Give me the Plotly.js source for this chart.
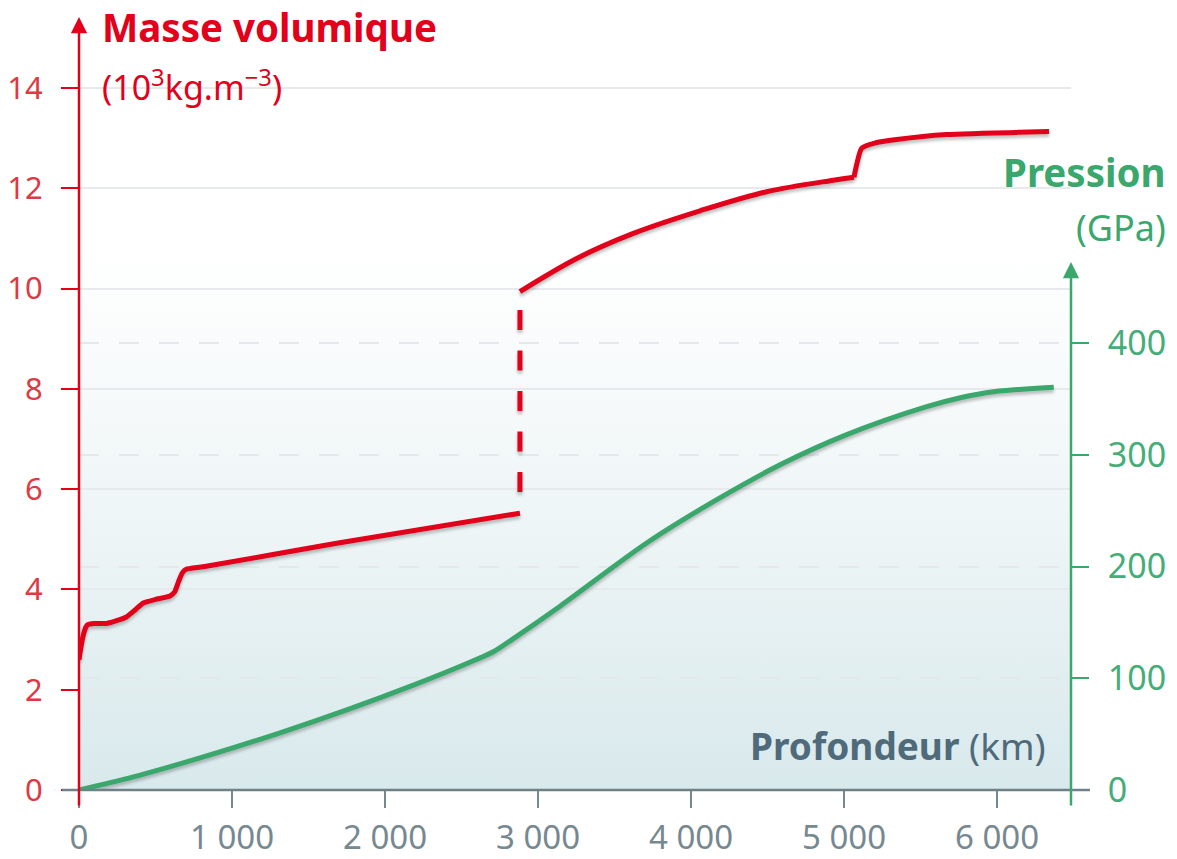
<!DOCTYPE html>
<html>
<head>
<meta charset="utf-8">
<script src="https://cdn.plot.ly/plotly-3.0.1.min.js"></script>
<style>
  html, body { margin: 0; padding: 0; background: #ffffff; }
  #chart { width: 1177px; height: 859px; }
  .js-plotly-plot .scatterlayer .trace .js-line { filter: drop-shadow(0px 3px 1.5px rgba(80,80,80,0.35)); }
</style>
</head>
<body>
<div id="chart"></div>
<script>
// Masse volumique (10^3 kg/m3) en fonction de la profondeur (km)
const mantleDepth = [0, 10, 25, 45, 60, 100, 180, 250, 310, 370, 420, 500, 595, 625, 650, 675, 700, 812, 1684, 2882];
const mantleDensity = [2.6, 2.8, 3.05, 3.25, 3.3, 3.32, 3.32, 3.38, 3.45, 3.6, 3.73, 3.8, 3.87, 3.95, 4.15, 4.33, 4.4, 4.45, 4.92, 5.52];

const outerCoreDepth = [2882, 3253, 3623, 4059, 4495, 4930, 5065];
const outerCoreDensity = [9.94, 10.60, 11.10, 11.55, 11.93, 12.16, 12.22];

const innerCoreDepth = [5065, 5116, 5200, 5344, 5671, 6340];
const innerCoreDensity = [12.22, 12.80, 12.9, 12.97, 13.07, 13.13];

const cmbDepth = [2882, 2882];
const cmbDensity = [5.94, 9.57];

// Pression (GPa)
const pressureDepth = [0, 355, 791, 1314, 1750, 2185, 2512, 2708, 2839, 3144, 3710, 4146, 4582, 5018, 5540, 5760, 5976, 6371];
const pressureValue = [0, 11.7, 28.7, 51.2, 71.7, 93.9, 111.9, 123.7, 135.5, 164.5, 221, 258, 291, 318, 343, 351, 356.4, 360.5];

const xTickVals = [0, 1000, 2000, 3000, 4000, 5000, 6000];
const xTickText = ['0', '1 000', '2 000', '3 000', '4 000', '5 000', '6 000'];
const densityTicks = [0, 2, 4, 6, 8, 10, 12, 14];
const pressureTicks = [0, 100, 200, 300, 400];

const RED = '#e2001a';
const RED_LABEL = '#dd3a45';
const GREEN = '#3aa86c';
const GREEN_LABEL = '#45ad78';
const GREY = '#768890';
const SLATE = '#4f6a7a';
const FONT = 'Noto Sans, Open Sans, sans-serif';

// plot-area geometry (pixels)
const W = 1177, H = 859;
const L = 79, R = 1071, T = 18, B = 790;
const pw = R - L, ph = B - T;
const px = v => (v - L) / pw;
const py = v => (B - v) / ph;

const gradSvg = "<svg xmlns='http://www.w3.org/2000/svg' width='100' height='100' viewBox='0 0 100 100' preserveAspectRatio='none'>" +
  "<defs><linearGradient id='g' x1='0' y1='0' x2='0' y2='1'>" +
  "<stop offset='0' stop-color='#ffffff'/><stop offset='0.3' stop-color='#ffffff'/>" +
  "<stop offset='0.65' stop-color='#eef5f6'/><stop offset='1' stop-color='#d8e9ec'/></linearGradient></defs>" +
  "<rect x='0' y='0' width='100' height='100' fill='url(#g)'/></svg>";
const gradUri = 'data:image/svg+xml;charset=utf-8,' + encodeURIComponent(gradSvg);

function redLine(x, y, smoothing) {
  return {
    x: x, y: y, type: 'scatter', mode: 'lines',
    line: { color: RED, width: 5, shape: 'spline', smoothing: smoothing },
    hoverinfo: 'skip', showlegend: false
  };
}

const traces = [
  {
    x: pressureDepth, y: pressureValue, yaxis: 'y2', type: 'scatter', mode: 'lines',
    line: { color: GREEN, width: 5, shape: 'spline', smoothing: 0.9 },
    hoverinfo: 'skip', showlegend: false
  },
  redLine(mantleDepth, mantleDensity, 0.45),
  redLine(outerCoreDepth, outerCoreDensity, 1.0),
  redLine(innerCoreDepth, innerCoreDensity, 0.5),
  {
    x: cmbDepth, y: cmbDensity, type: 'scatter', mode: 'lines',
    line: { color: RED, width: 5, dash: '20px,20.5px' },
    hoverinfo: 'skip', showlegend: false
  }
];

const layout = {
  width: W, height: H,
  margin: { l: L, r: W - R, t: T, b: H - B, pad: 0 },
  paper_bgcolor: 'rgba(0,0,0,0)',
  plot_bgcolor: 'rgba(0,0,0,0)',
  showlegend: false,
  font: { family: FONT },
  xaxis: {
    range: [0, pw / 0.153],
    tickvals: xTickVals, ticktext: xTickText,
    ticks: 'outside', ticklen: 17, tickwidth: 2, tickcolor: GREY,
    tickfont: { size: 33, color: GREY, family: FONT },
    ticklabelstandoff: 1,
    showgrid: false, zeroline: false, showline: false,
    fixedrange: true
  },
  yaxis: {
    range: [0, ph / 50.15],
    tickvals: densityTicks,
    ticks: 'outside', ticklen: 17, tickwidth: 2, tickcolor: RED,
    tickfont: { size: 31, color: RED_LABEL, family: FONT },
    ticklabelstandoff: 12,
    showgrid: true, gridcolor: '#e6eaec', gridwidth: 2,
    zeroline: false, showline: false,
    fixedrange: true
  },
  yaxis2: {
    overlaying: 'y', side: 'right',
    range: [0, ph / 1.1175],
    tickvals: pressureTicks,
    ticks: 'outside', ticklen: 17, tickwidth: 2, tickcolor: GREEN,
    tickfont: { size: 34, color: GREEN_LABEL, family: FONT },
    ticklabelstandoff: 12,
    showgrid: true, gridcolor: '#e4e8ea', gridwidth: 2, griddash: '20px,20px',
    zeroline: false, showline: false,
    fixedrange: true
  },
  images: [{
    source: gradUri, xref: 'paper', yref: 'paper', x: 0, y: 1, sizex: 1, sizey: 1,
    xanchor: 'left', yanchor: 'top', sizing: 'stretch', layer: 'below'
  }],
  shapes: [
    { type: 'line', xref: 'paper', yref: 'paper', x0: px(62), x1: px(1090), y0: 0, y1: 0,
      line: { color: '#6f8089', width: 2.5 }, layer: 'above' }
  ],
  annotations: [
    // left axis with arrow
    { xref: 'paper', yref: 'paper', x: 0, y: py(17), ax: 0, ay: 807 - 17, axref: 'pixel', ayref: 'pixel',
      text: '', showarrow: true, arrowhead: 2, arrowsize: 1.3, arrowwidth: 2.5, arrowcolor: RED, standoff: 0 },
    // right axis with arrow
    { xref: 'paper', yref: 'paper', x: 1, y: py(262), ax: 0, ay: 807 - 262, axref: 'pixel', ayref: 'pixel',
      text: '', showarrow: true, arrowhead: 2, arrowsize: 1.3, arrowwidth: 2.5, arrowcolor: GREEN, standoff: 0 },
    { xref: 'paper', yref: 'paper', x: px(100), y: py(27), xanchor: 'left', yanchor: 'middle', showarrow: false,
      text: '<b>Masse volumique</b>', font: { size: 38.5, color: RED, family: FONT } },
    { xref: 'paper', yref: 'paper', x: px(100), y: py(86), xanchor: 'left', yanchor: 'middle', showarrow: false,
      text: '(10<sup>3</sup>kg.m<sup>−3</sup>)', font: { size: 34, color: RED, family: FONT } },
    { xref: 'paper', yref: 'paper', x: px(1168), y: py(172), xanchor: 'right', yanchor: 'middle', showarrow: false,
      text: '<b>Pression</b>', font: { size: 38.5, color: GREEN, family: FONT } },
    { xref: 'paper', yref: 'paper', x: px(1168), y: py(228), xanchor: 'right', yanchor: 'middle', showarrow: false,
      text: '(GPa)', font: { size: 36, color: GREEN, family: FONT } },
    { xref: 'paper', yref: 'paper', x: px(1048), y: py(745), xanchor: 'right', yanchor: 'middle', showarrow: false,
      text: '<b>Profondeur</b> (km)', font: { size: 37, color: SLATE, family: FONT } }
  ]
};

Plotly.newPlot('chart', traces, layout, { displayModeBar: false, staticPlot: true });
</script>
</body>
</html>
